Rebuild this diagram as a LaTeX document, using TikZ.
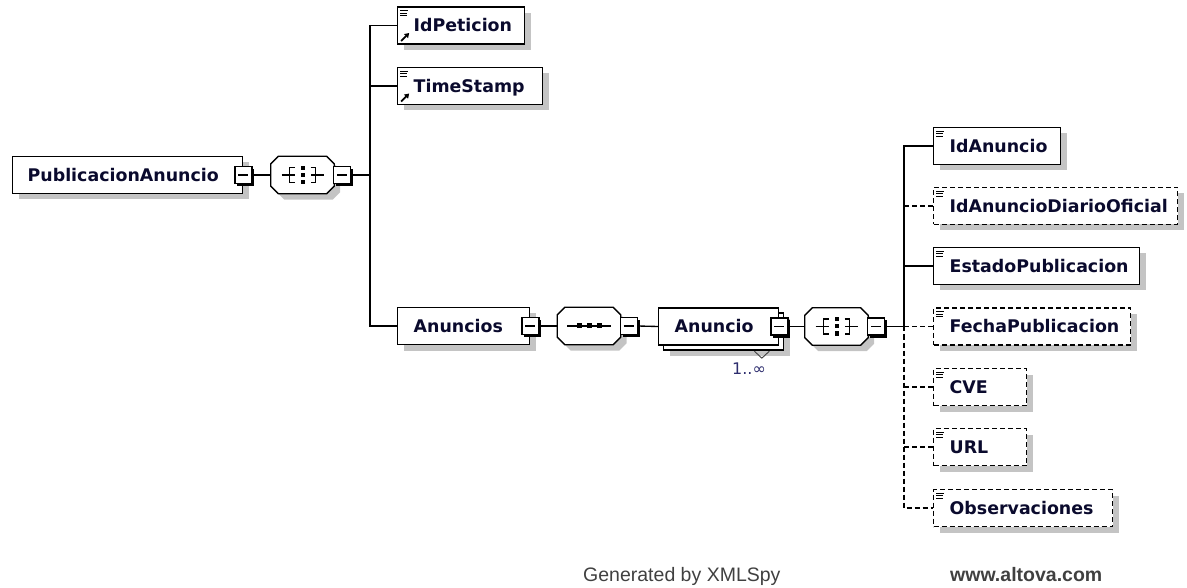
\documentclass[tikz,border=0pt]{standalone}
\usepackage{fontspec}
\setmainfont{DejaVu Sans}
\newfontfamily\footfont{Liberation Sans}
\usetikzlibrary{arrows.meta,shadows,calc}
\definecolor{shadowgray}{RGB}{196,196,196}
\definecolor{labelc}{RGB}{10,10,45}
\definecolor{multc}{RGB}{45,45,110}
\definecolor{footc}{RGB}{64,64,64}
\tikzset{
  conn/.style={line width=1.35pt, draw=black},
  optconn/.style={conn, dash pattern=on 5pt off 3pt},
  elembase/.style={draw=black, line width=1.35pt, fill=white, minimum height=37pt,
    inner ysep=0pt, inner xsep=16pt, anchor=west, align=left,
    text height=16.7pt, text depth=4pt,
    font=\bfseries\fontsize{17.4}{20}\selectfont, text=labelc},
  elem/.style={elembase, drop shadow={shadow xshift=6pt, shadow yshift=-6pt, fill=shadowgray, opacity=1}},
  optelem/.style={elem, dash pattern=on 5pt off 3pt},
  docicon/.style={path picture={
    \draw[solid, line width=1.2pt, black]
      ([xshift=2.5pt,yshift=-3.8pt]path picture bounding box.north west) -- ++(7.5pt,0pt)
      ([xshift=2.5pt,yshift=-6.3pt]path picture bounding box.north west) -- ++(6.5pt,0pt)
      ([xshift=2.5pt,yshift=-8.8pt]path picture bounding box.north west) -- ++(6.5pt,0pt);}},
  refdocicon/.style={path picture={
    \draw[solid, line width=1.2pt, black]
      ([xshift=2.5pt,yshift=-3.8pt]path picture bounding box.north west) -- ++(7.5pt,0pt)
      ([xshift=2.5pt,yshift=-6.3pt]path picture bounding box.north west) -- ++(6.5pt,0pt)
      ([xshift=2.5pt,yshift=-8.8pt]path picture bounding box.north west) -- ++(6.5pt,0pt);
    \draw[solid, line width=1.8pt, black, -{Triangle[length=4.5pt,width=5.5pt]}]
      ([xshift=3.5pt,yshift=3pt]path picture bounding box.south west) -- ++(8pt,8pt);}},
  multi/.style={elembase,
    drop shadow={shadow xshift=11pt, shadow yshift=-11pt, fill=shadowgray, opacity=1},
    copy shadow={shadow xshift=5pt, shadow yshift=-5pt, draw=black, fill=white, line width=1.35pt}},
  minusbox/.style={draw=black, line width=1.35pt, fill=white, minimum size=17pt, inner sep=0pt,
    drop shadow={shadow xshift=2.5pt, shadow yshift=-2.5pt, fill=black, opacity=1},
    path picture={\draw[line width=1.2pt, black]
      ([xshift=-5pt]path picture bounding box.center) -- ([xshift=5pt]path picture bounding box.center);}},
  octo/.style={minimum width=63pt, minimum height=37pt, inner sep=0pt},
  multlabel/.style={font=\fontsize{16}{18}\selectfont, text=multc, inner sep=0pt},
  foot/.style={font=\footfont\fontsize{19.5}{22}\selectfont, text=footc, inner sep=0pt, anchor=base west},
}
\newcommand{\octagonshape}[1]{%
  \fill[shadowgray, transform canvas={xshift=6pt,yshift=-6pt}]
    ([xshift=7.5pt]#1.north west) -- ([xshift=-7.5pt]#1.north east) -- ([yshift=-7.5pt]#1.north east)
    -- ([yshift=7.5pt]#1.south east) -- ([xshift=-7.5pt]#1.south east) -- ([xshift=7.5pt]#1.south west)
    -- ([yshift=7.5pt]#1.south west) -- ([yshift=-7.5pt]#1.north west) -- cycle;
  \draw[line width=1.35pt, fill=white]
    ([xshift=7.5pt]#1.north west) -- ([xshift=-7.5pt]#1.north east) -- ([yshift=-7.5pt]#1.north east)
    -- ([yshift=7.5pt]#1.south east) -- ([xshift=-7.5pt]#1.south east) -- ([xshift=7.5pt]#1.south west)
    -- ([yshift=7.5pt]#1.south west) -- ([yshift=-7.5pt]#1.north west) -- cycle;}
\newcommand{\allicon}[1]{%
  \begin{scope}[shift={(#1.center)}]
    \draw[line width=1.2pt] (-21,0) -- (-8,0) (-8,-7.5) -- (-13,-7.5) -- (-13,7.5) -- (-8,7.5);
    \draw[line width=1.2pt] (21,0) -- (8,0) (8,-7.5) -- (13,-7.5) -- (13,7.5) -- (8,7.5);
    \fill (-2,-9) rectangle (2,-5);
    \fill (-2,-2) rectangle (2,2);
    \fill (-2,5) rectangle (2,9);
  \end{scope}}
\newcommand{\seqicon}[1]{%
  \begin{scope}[shift={(#1.center)}]
    \draw[line width=1.2pt] (-22,0) -- (22,0);
    \fill (-12.5,-2.5) rectangle (-7.5,2.5);
    \fill (-2.5,-2.5) rectangle (2.5,2.5);
    \fill (7.5,-2.5) rectangle (12.5,2.5);
  \end{scope}}
\begin{document}
\begin{tikzpicture}[x=1pt,y=-1pt]
\useasboundingbox (0,0) rectangle (1187,588);

% root
\node[elem, inner xsep=15pt, minimum width=230pt, text width=200pt] (pa) at (12,175) {PublicacionAnuncio};
\node[minusbox] (pam) at (pa.east) {};
\node[octo] (c1) at (302.5,175) {};
\octagonshape{c1}
\allicon{c1}
\node[minusbox] (c1m) at ([xshift=8pt]c1.east) {};
\coordinate (j1) at (370,175);

% first level children
\node[elem, refdocicon, minimum width=127pt, text width=95pt] (idp) at (397,25.5) {IdPeticion};
\node[elem, refdocicon, minimum width=145pt, text width=113pt] (ts) at (397,86) {TimeStamp};
\node[elem, minimum width=132pt, text width=100pt] (ans) at (397,326) {Anuncios};
\node[minusbox] (ansm) at (ans.east) {};

% sequence
\node[octo] (c2) at (589,326) {};
\octagonshape{c2}
\seqicon{c2}
\node[minusbox] (c2m) at ([xshift=8pt]c2.east) {};

% Anuncio (multiple)
\node[multi, minimum width=120pt, text width=88pt] (an) at (658,326.5) {Anuncio};
\draw[line width=0.9pt, black!75] ($(an.south east)+(-25,5.5)$) -- ($(an.south east)+(-17.5,12.5)$) -- ($(an.south east)+(-10,5.5)$);
\node[minusbox] (anm) at (an.east) {};
\node[multlabel] (anmult) at (749,368.5) {1..∞};

% all compositor
\node[octo] (c3) at (836.5,326.5) {};
\octagonshape{c3}
\allicon{c3}
\node[minusbox] (c3m) at ([xshift=8pt]c3.east) {};
\coordinate (j2) at (904,326.5);

% right children
\node[elem, docicon, minimum width=127pt, text width=95pt] (ida) at (933,146) {IdAnuncio};
\node[optelem, docicon, minimum width=244pt, text width=212pt] (ido) at (933,206) {IdAnuncioDiarioOficial};
\node[elem, docicon, minimum width=206pt, text width=174pt] (est) at (933,266) {EstadoPublicacion};
\node[optelem, docicon, minimum width=197pt, text width=165pt] (fec) at (933,326.5) {FechaPublicacion};
\node[optelem, docicon, minimum width=93pt, text width=61pt] (cve) at (933,387) {CVE};
\node[optelem, docicon, minimum width=93pt, text width=61pt] (url) at (933,447) {URL};
\node[optelem, docicon, minimum width=179pt, text width=147pt] (obs) at (933,508) {Observaciones};

% connectors
\draw[conn] (pam.east) -- (c1.west);
\draw[conn] (c1m.east) -- (j1);
\draw[conn] (idp.west) -- (idp.west -| j1) -- (ans.west -| j1) -- (ans.west);
\draw[conn] (ts.west) -- (ts.west -| j1);
\draw[conn] (ansm.east) -- (c2.west);
\draw[conn] (c2m.east) -- (an.west);
\draw[conn] (anm.east) -- (c3.west);
\draw[conn] (c3m.east) -- (j2);
\draw[conn] (ida.west) -- (ida.west -| j2) -- (j2);
\draw[conn] (est.west) -- (est.west -| j2);
\draw[optconn] (j2) -- (obs.west -| j2) -- (obs.west);
\draw[optconn] (ido.west -| j2) -- (ido.west);
\draw[optconn] (j2) -- (fec.west);
\draw[optconn] (cve.west -| j2) -- (cve.west);
\draw[optconn] (url.west -| j2) -- (url.west);

% footer
\node[foot] (gen) at (583,581) {Generated by XMLSpy};
\node[foot, font=\footfont\bfseries\fontsize{19.5}{22}\selectfont] (alt) at (950,581) {www.altova.com};
\end{tikzpicture}
\end{document}
